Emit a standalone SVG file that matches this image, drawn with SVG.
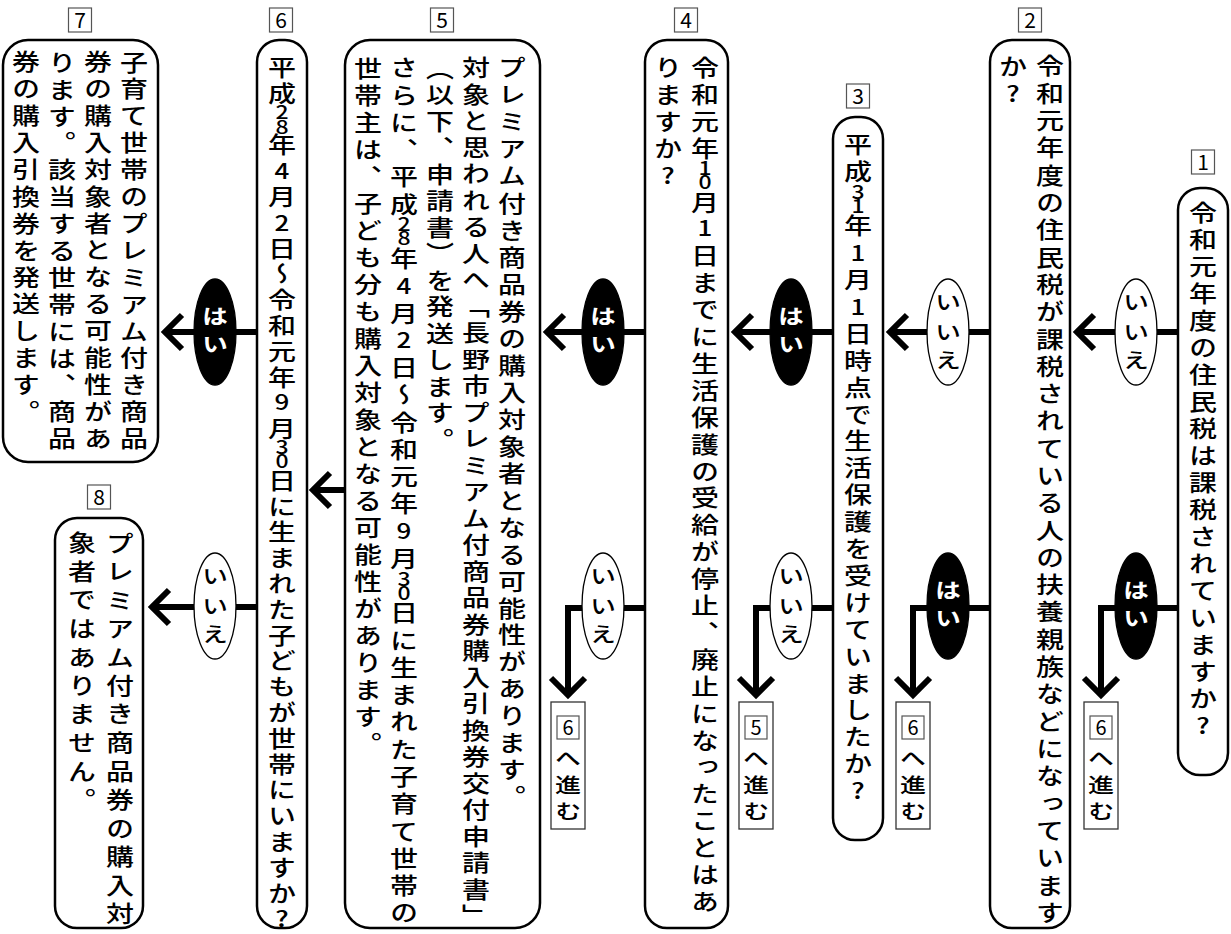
<svg xmlns="http://www.w3.org/2000/svg" width="1231" height="934" viewBox="0 0 1231 934">
<style>
.bg{fill:#fff}
.box{fill:#fff;stroke:#000;stroke-width:2.5}
.lbl{fill:#fff;stroke:#555;stroke-width:1.2}
.nav{fill:#fff;stroke:#333;stroke-width:1.3}
.lt{font-family:"Noto Sans CJK JP","Noto Sans CJK SC",sans-serif;font-size:21px;text-anchor:middle;fill:#000}
.t{font-family:"Noto Sans CJK JP","Noto Sans CJK SC",sans-serif;font-size:28px;font-weight:500;writing-mode:vertical-rl;text-orientation:upright;fill:#000}
.d{font-size:26px}
.p{font-size:23px}
.nt{font-size:26px}
.wt{font-size:26px;font-weight:700;fill:#fff}
.con{fill:none;stroke:#000;stroke-width:6;stroke-linejoin:miter;stroke-linecap:butt}
.ew{fill:#fff;stroke:#000;stroke-width:1.3}
.eb{fill:#000;stroke:#000;stroke-width:1.3}
</style>
<rect class="bg" x="0" y="0" width="1231" height="934"/>
<g id="connectors">
<path class="con" d="M1178 332 H1080 M1094 315 L1077 332 L1094 349"/>
<path class="con" d="M990 332 H893 M907 315 L890 332 L907 349"/>
<path class="con" d="M833 332 H738 M752 315 L735 332 L752 349"/>
<path class="con" d="M645 332 H550 M564 315 L547 332 L564 349"/>
<path class="con" d="M345 490 H316 M330 473 L313 490 L330 507"/>
<path class="con" d="M257 332 H168 M182 315 L165 332 L182 349"/>
<path class="con" d="M257 607 H155 M169 590 L152 607 L169 624"/>
<path class="con" d="M1178 608 H1101 V694 M1084 678 L1101 695 L1118 678"/>
<path class="con" d="M990 608 H913 V694 M896 678 L913 695 L930 678"/>
<path class="con" d="M833 608 H756 V694 M739 678 L756 695 L773 678"/>
<path class="con" d="M645 608 H568 V694 M551 678 L568 695 L585 678"/>
<ellipse class="ew" cx="1136" cy="332" rx="21" ry="53"/>
<text class="t nt" transform="scale(1,0.8)" x="1136" y="364.5 402 437">いいえ</text>
<ellipse class="eb" cx="1136" cy="606" rx="21" ry="53"/>
<text class="t wt" transform="scale(1,0.8)" x="1136" y="724.5 759.5">はい</text>
<ellipse class="ew" cx="948" cy="332" rx="21" ry="53"/>
<text class="t nt" transform="scale(1,0.8)" x="948" y="364.5 402 437">いいえ</text>
<ellipse class="eb" cx="948" cy="606" rx="21" ry="53"/>
<text class="t wt" transform="scale(1,0.8)" x="948" y="724.5 759.5">はい</text>
<ellipse class="eb" cx="791" cy="332" rx="21" ry="53"/>
<text class="t wt" transform="scale(1,0.8)" x="791" y="382 417">はい</text>
<ellipse class="ew" cx="791" cy="606" rx="21" ry="53"/>
<text class="t nt" transform="scale(1,0.8)" x="791" y="707 744.5 779.5">いいえ</text>
<ellipse class="eb" cx="603" cy="332" rx="21" ry="53"/>
<text class="t wt" transform="scale(1,0.8)" x="603" y="382 417">はい</text>
<ellipse class="ew" cx="603" cy="606" rx="21" ry="53"/>
<text class="t nt" transform="scale(1,0.8)" x="603" y="707 744.5 779.5">いいえ</text>
<ellipse class="eb" cx="215" cy="332" rx="21" ry="53"/>
<text class="t wt" transform="scale(1,0.8)" x="215" y="382 417">はい</text>
<ellipse class="ew" cx="215" cy="606" rx="21" ry="53"/>
<text class="t nt" transform="scale(1,0.8)" x="215" y="707 744.5 779.5">いいえ</text>
</g>
<g id="nav1">
<rect class="nav" x="1084" y="702" width="34" height="127"/>
<rect class="lbl" x="1090" y="716" width="22" height="23"/>
<text class="lt" x="1101" y="735" style="font-size:20px">6</text>
<text class="t nt" transform="scale(1,0.8)" x="1101" y="934.5 968.25 1000.75">へ進む</text>
</g>
<g id="nav2">
<rect class="nav" x="896" y="702" width="34" height="127"/>
<rect class="lbl" x="902" y="716" width="22" height="23"/>
<text class="lt" x="913" y="735" style="font-size:20px">6</text>
<text class="t nt" transform="scale(1,0.8)" x="913" y="934.5 968.25 1000.75">へ進む</text>
</g>
<g id="nav3">
<rect class="nav" x="739" y="702" width="34" height="127"/>
<rect class="lbl" x="745" y="716" width="22" height="23"/>
<text class="lt" x="756" y="735" style="font-size:20px">5</text>
<text class="t nt" transform="scale(1,0.8)" x="756" y="934.5 968.25 1000.75">へ進む</text>
</g>
<g id="nav4">
<rect class="nav" x="551" y="702" width="34" height="127"/>
<rect class="lbl" x="557" y="716" width="22" height="23"/>
<text class="lt" x="568" y="735" style="font-size:20px">6</text>
<text class="t nt" transform="scale(1,0.8)" x="568" y="934.5 968.25 1000.75">へ進む</text>
</g>
<g id="node1">
<rect class="lbl" x="1191.5" y="150" width="23" height="24"/>
<text class="lt" x="1203" y="170">1</text>
<rect class="box" x="1178" y="188" width="50" height="587" rx="22"/>
<text class="t" transform="scale(1,0.8)" x="1203" y="251.6 285.4 319.1 352.9 386.6 420.4 454.1 487.9 521.6 555.4 589.1 622.9 656.6 690.4 724.1 757.9 791.6 825.4 859.1 892.9">令和元年度の住民税は課税されていますか?</text>
</g>
<g id="node2">
<rect class="lbl" x="1018.5" y="8" width="23" height="24"/>
<text class="lt" x="1030" y="28">2</text>
<rect class="box" x="990" y="40" width="80" height="888" rx="22"/>
<text class="t" transform="scale(1,0.8)"><tspan x="1050" y="68.5 102.6 136.8 170.9 205 239.1 273.3 307.4 341.5 375.6 409.8 443.9 478 512.1 546.3 580.4 614.5 648.6 682.8 716.9 751 785.1 819.3 853.4 887.5 921.6 955.8 989.9 1024 1058.1 1092.3 1126.4">令和元年度の住民税が課税されている人の扶養親族などになっています</tspan><tspan x="1013" y="68.5 102.6">か?</tspan></text>
</g>
<g id="node3">
<rect class="lbl" x="846.5" y="84" width="23" height="24"/>
<text class="lt" x="858" y="104">3</text>
<rect class="box" x="833" y="117" width="50" height="723" rx="22"/>
<text class="t" transform="scale(1,0.8)" x="858" y="167.25 200.9 228 246 268.1 302.75 335.4 370 402.6 436.3 469.9 503.5 537.1 570.8 604.4 638 671.6 705.3 738.9 772.5 806.1 839.8 873.4 907 940.6 974.3">平成<tspan class="p">31</tspan>年<tspan class="d">1</tspan>月<tspan class="d">1</tspan>日時点で生活保護を受けていましたか?</text>
</g>
<g id="node4">
<rect class="lbl" x="674.5" y="8" width="23" height="24"/>
<text class="lt" x="686" y="28">4</text>
<rect class="box" x="645" y="40" width="83" height="888" rx="22"/>
<text class="t" transform="scale(1,0.8)"><tspan x="705" y="70.4 104 137.6 171.3 198.4 216.4 238.5 273.1 305.8 339.4 373 406.6 440.3 473.9 507.5 541.1 574.8 608.4 642 675.6 709.3 742.9 776.5 810.1 843.8 877.4 911 944.6 978.3 1011.9 1045.5 1079.1 1112.8">令和元年<tspan class="p">10</tspan>月<tspan class="d">1</tspan>日までに生活保護の受給が停止、廃止になったことはあ</tspan><tspan x="668" y="70.4 104 137.6 171.3 204.9">りますか?</tspan></text>
</g>
<g id="node5">
<rect class="lbl" x="430.5" y="8" width="23" height="24"/>
<text class="lt" x="442" y="28">5</text>
<rect class="box" x="345" y="40" width="195" height="888" rx="25"/>
<text class="t" transform="scale(1,0.8)"><tspan x="512" y="71 104.75 138.5 172.25 206 239.75 273.5 307.25 341 374.75 408.5 442.25 476 509.75 543.5 577.25 611 644.75 678.5 712.25 746 779.75 813.5 847.25 881 914.75 948.5 982.25">プレミアム付き商品券の購入対象者となる可能性があります。</tspan><tspan x="476" y="71 104.1 137.3 170.4 203.5 236.6 269.8 302.9 336 369.1 402.3 435.4 468.5 501.6 534.8 567.9 601 634.1 667.3 700.4 733.5 766.6 799.8 832.9 866 899.1 932.3 965.4 998.5 1031.6 1064.8 1097.9 1131">対象と思われる人へ「長野市プレミアム付商品券購入引換券交付申請書」</tspan><tspan x="440" y="71 104.1 137.3 170.4 203.5 236.6 269.8 302.9 336 369.1 402.3 435.4 468.5 501.6 534.8">（以下、申請書）を発送します。</tspan><tspan x="404" y="71 105.1 139.2 173.2 207.3 241.4 269 287 309.5 344.6 377.7 412.8 445.8 479.9 514 548.1 582.1 616.2 651.3 684.4 711.9 729.9 752.5 786.6 820.7 854.7 888.8 922.9 957 991 1025.1 1059.2 1093.3 1127.3">さらに、平成<tspan class="p">28</tspan>年<tspan class="d">4</tspan>月<tspan class="d">2</tspan>日～令和元年<tspan class="d">9</tspan>月<tspan class="p">30</tspan>日に生まれた子育て世帯の</tspan><tspan x="368" y="71 104.75 138.5 172.25 206 239.75 273.5 307.25 341 374.75 408.5 442.25 476 509.75 543.5 577.25 611 644.75 678.5 712.25 746 779.75 813.5 847.25 881 914.75">世帯主は、子ども分も購入対象となる可能性があります。</tspan></text>
</g>
<g id="node6">
<rect class="lbl" x="269.5" y="8" width="23" height="24"/>
<text class="lt" x="281" y="28">6</text>
<rect class="box" x="257" y="40" width="50" height="888" rx="22"/>
<text class="t" transform="scale(1,0.8)" x="282" y="70.4 102.6 128.4 146.4 167.1 200.4 231.6 264.9 296.1 328.4 360.6 392.9 425.1 457.4 490.6 521.9 547.6 565.6 586.4 618.6 650.9 683.1 715.4 747.6 779.9 812.1 844.4 876.6 908.9 941.1 973.4 1005.6 1037.9 1070.1 1102.4 1134.6">平成<tspan class="p">28</tspan>年<tspan class="d">4</tspan>月<tspan class="d">2</tspan>日～令和元年<tspan class="d">9</tspan>月<tspan class="p">30</tspan>日に生まれた子どもが世帯にいますか?</text>
</g>
<g id="node7">
<rect class="lbl" x="68.5" y="8" width="23" height="24"/>
<text class="lt" x="80" y="28">7</text>
<rect class="box" x="3" y="40" width="155" height="422" rx="25"/>
<text class="t" transform="scale(1,0.8)"><tspan x="134" y="63.5 97.1 130.8 164.4 198 231.6 265.3 298.9 332.5 366.1 399.8 433.4 467 500.6 534.3">子育て世帯のプレミアム付き商品</tspan><tspan x="98" y="63.5 97.1 130.8 164.4 198 231.6 265.3 298.9 332.5 366.1 399.8 433.4 467 500.6 534.3">券の購入対象者となる可能性があ</tspan><tspan x="62" y="63.5 97.1 130.8 164.4 198 231.6 265.3 298.9 332.5 366.1 399.8 433.4 467 500.6 534.3">ります。該当する世帯には、商品</tspan><tspan x="26" y="63.5 97.1 130.8 164.4 198 231.6 265.3 298.9 332.5 366.1 399.8 433.4 467 500.6">券の購入引換券を発送します。</tspan></text>
</g>
<g id="node8">
<rect class="lbl" x="87.5" y="485" width="23" height="24"/>
<text class="lt" x="99" y="505">8</text>
<rect class="box" x="55" y="518" width="88" height="410" rx="22"/>
<text class="t" transform="scale(1,0.8)"><tspan x="120" y="664.75 700.4 736 771.6 807.3 842.9 878.5 914.1 949.8 985.4 1021 1056.6 1092.3 1127.9">プレミアム付き商品券の購入対</tspan><tspan x="82" y="664.75 700.4 736 771.6 807.3 842.9 878.5 914.1 949.8 985.4">象者ではありません。</tspan></text>
</g>
</svg>
